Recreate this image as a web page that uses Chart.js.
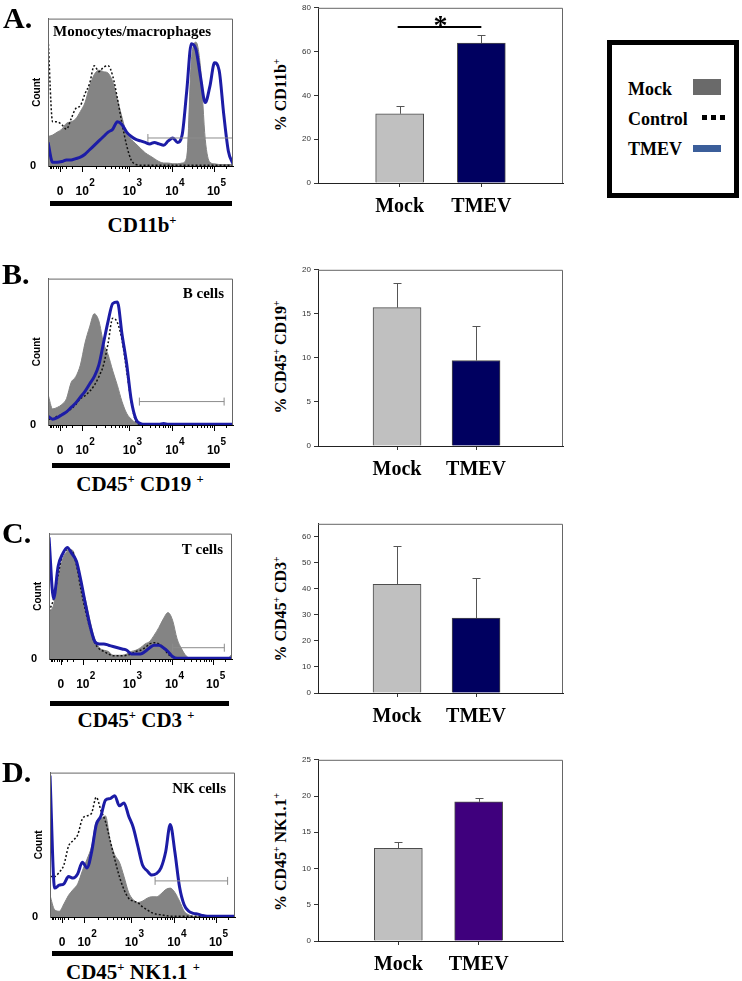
<!DOCTYPE html>
<html>
<head>
<meta charset="utf-8">
<script src="https://cdn.jsdelivr.net/npm/chart.js@4.4.1/dist/chart.umd.min.js"></script>
<style>
  body { margin: 0; background: #fff; }
  #fig { position: relative; width: 742px; height: 981px; overflow: hidden; font-family: "Liberation Serif", "Times New Roman", serif; }
  #fig canvas { position: absolute; }
  .lbl { position: absolute; font-weight: bold; white-space: nowrap; color: #000; }
  .panel { font-size: 30px; line-height: 30px; }
  .xname { font-size: 21px; line-height: 21px; width: 200px; text-align: center; }
  .yname { font-size: 16px; line-height: 16px; transform: translate(-50%, -50%) rotate(-90deg); }
  .rule { position: absolute; background: #000; height: 5px; }
  sup { font-size: 0.6em; vertical-align: 0.6em; line-height: 0; }
  #legend { position: absolute; left: 607px; top: 40px; width: 132px; height: 158px; border: 5px solid #000; box-sizing: border-box; }
  #legend .item { position: absolute; left: 16px; font-size: 18px; line-height: 18px; font-weight: bold; }
  #legend .sw { position: absolute; }
</style>
</head>
<body>
<div id="fig">
  <canvas id="histA"></canvas>
  <canvas id="histB"></canvas>
  <canvas id="histC"></canvas>
  <canvas id="histD"></canvas>
  <canvas id="barA"></canvas>
  <canvas id="barB"></canvas>
  <canvas id="barC"></canvas>
  <canvas id="barD"></canvas>

  <div class="lbl panel" style="left:3px; top:3px;">A.</div>
  <div class="lbl panel" style="left:2px; top:259px;">B.</div>
  <div class="lbl panel" style="left:2px; top:518px;">C.</div>
  <div class="lbl panel" style="left:2px; top:757px;">D.</div>

  <div class="rule" style="left:50px; width:182px; top:201px;"></div>
  <div class="rule" style="left:52px; width:178px; top:463px;"></div>
  <div class="rule" style="left:50px; width:179px; top:701px;"></div>
  <div class="rule" style="left:52px; width:181px; top:951px;"></div>

  <div class="lbl xname" style="left:42px; top:215px;">CD11b<sup>+</sup></div>
  <div class="lbl xname" style="left:40px; top:474px;">CD45<sup>+</sup> CD19 <sup>+</sup></div>
  <div class="lbl xname" style="left:36px; top:710px;">CD45<sup>+</sup> CD3 <sup>+</sup></div>
  <div class="lbl xname" style="left:33px; top:962px;">CD45<sup>+</sup> NK1.1 <sup>+</sup></div>

  <div class="lbl yname" style="left:281px; top:95px;">% CD11b<sup>+</sup></div>
  <div class="lbl yname" style="left:281px; top:357px;">% CD45<sup>+</sup> CD19<sup>+</sup></div>
  <div class="lbl yname" style="left:281px; top:609px;">% CD45<sup>+</sup> CD3<sup>+</sup></div>
  <div class="lbl yname" style="left:281px; top:852px;">% CD45<sup>+</sup> NK1.1<sup>+</sup></div>

  <div id="legend">
    <div class="item" style="top:35px;">Mock</div>
    <div class="sw" style="left:81px; top:34px; width:28px; height:16px; background:#6a6a6a;"></div>
    <div class="item" style="top:65px;">Control</div>
    <div class="sw" style="left:90px; top:70px; width:5px; height:5px; background:#000;"></div>
    <div class="sw" style="left:99px; top:70px; width:5px; height:5px; background:#000;"></div>
    <div class="sw" style="left:108px; top:70px; width:5px; height:5px; background:#000;"></div>
    <div class="item" style="top:95px;">TMEV</div>
    <div class="sw" style="left:81px; top:100px; width:28px; height:7px; background:#3b5e9a;"></div>
  </div>
</div>

<script>
// histogram channels, as % of the plotted axis width
const channels = [0, 2.5, 5, 7.5, 10, 12.5, 15, 17.5, 20, 22.5, 25, 27.5, 30, 32.5, 35, 37.5, 40, 42.5, 45, 47.5,
                  50, 52.5, 55, 57.5, 60, 62.5, 65, 67.5, 70, 72.5, 75, 77.5, 80, 82.5, 85, 87.5, 90, 92.5, 95, 97.5, 100];

// A. monocytes / macrophages (counts as % of frame height)
const monoMock = [20, 21, 23, 25, 29, 30, 32, 37, 43, 54, 62, 65, 64, 63, 57, 45, 33, 22, 18, 15,
                  12, 9, 7, 5, 3, 2, 2, 1.5, 1.5, 2, 6, 72, 84, 66, 18, 2.5, 1.5, 1, 1, 1, 1];
const monoControl = [88, 30, 30, 28, 25, 32, 39, 41, 49, 56, 68, 64, 67, 68, 61, 46, 29, 14, 4, 1,
                     0.5, 0.5, 0.5, 0.5, 0.5, 0.5, 0.5, 0.5, 0.5, 0.5, 0.5, 0.5, 0.5, 0.5, 0.5, 0.5, 0.5, 0.5, 0.5, 0.5, 0.5];
const monoTmev = [16, 2.5, 2.5, 3, 4, 4, 5, 6, 8, 11, 14, 17, 20, 23, 25, 30, 28, 23, 20, 18,
                  17, 16, 15, 16, 15, 14, 17, 19, 16, 21, 51, 83, 79, 60, 43, 54, 70, 65, 35, 10, 1.5];
const monoGate = [54, 100, 19];

// B. B cells
const bMock = [21, 11, 12, 14, 18, 29, 33, 41, 56, 67, 76, 71, 56, 48, 37, 27, 16, 8, 4, 1.5,
               0.5, 0.5, 0.5, 0.5, 0.5, 0.5, 0.5, 0.5, 0.5, 0.5, 0.5, 0.5, 0.5, 0.5, 0.5, 0.5, 0.5, 0.5, 0.5, 0.5, 0.5];
const bControl = [4, 4, 6, 7, 9, 11, 14, 18, 20, 23, 27, 33, 41, 56, 73, 70, 58, 37, 16, 2.5,
                  0.5, 0.5, 0.5, 0.5, 0.5, 0.5, 0.5, 0.5, 0.5, 0.5, 0.5, 0.5, 0.5, 0.5, 0.5, 0.5, 0.5, 0.5, 0.5, 0.5, 0.5];
const bTmev = [6, 4, 5, 7, 9, 12, 15, 19, 23, 28, 33, 41, 56, 71, 83, 84, 62, 42, 17, 4,
               1, 0.5, 0.5, 0.5, 0.5, 1, 0.5, 0.5, 0.5, 0.5, 0.5, 0.5, 0.5, 0.5, 0.5, 0.5, 0.5, 0.5, 0.5, 0.5, 0.5];
const bGate = [49.4, 95.2, 16];

// C. T cells
const tMock = [38, 43, 65, 80, 86, 87, 78, 60, 47, 30, 16, 9, 7, 6, 3, 3, 3, 4, 6, 7,
               9, 12, 14, 19, 25, 32, 37, 31, 16, 8, 2.4, 0.7, 0.5, 0.5, 0.5, 0.5, 0.5, 0.5, 0.5, 0.5, 4];
const tControl = [38, 48, 67, 84, 87, 86, 75, 55, 38, 24, 13, 8, 6, 4, 2.5, 2.5, 2.5, 3, 4, 6,
                  7, 9, 12, 13, 12, 9, 4, 1.5, 0.5, 0.5, 0.5, 0.5, 0.5, 0.5, 0.5, 0.5, 0.5, 0.5, 0.5, 0.5, 0.5];
const tTmev = [97, 48, 74, 84, 89, 84, 78, 62, 43, 26, 14, 12, 12, 11, 10, 9, 8, 7, 4, 4,
               4, 6, 9, 11, 11, 9, 6, 2, 0.5, 0.5, 0.5, 0.5, 0.5, 0.5, 0.5, 0.5, 0.5, 0.5, 0.5, 0.5, 0.5];
const tGate = [67.6, 95.8, 9];

// D. NK cells
const nkMock = [15, 5, 4, 9, 15, 19, 23, 32, 40, 49, 66, 68, 70, 53, 43, 38, 28, 17, 12, 10,
                11, 13, 14, 14, 16, 19, 20, 17, 11, 4, 1.5, 0.5, 0.5, 0.5, 0.5, 0.5, 0.5, 0.5, 0.5, 0.5, 0.5];
const nkControl = [28, 28, 31, 36, 49, 53, 57, 68, 70, 72, 83, 74, 66, 53, 40, 28, 19, 13, 11, 10,
                   7, 5, 3, 2, 1.5, 1, 0.5, 0.5, 0.5, 0.5, 0.5, 0.5, 0.5, 0.5, 0.5, 0.5, 0.5, 0.5, 0.5, 0.5, 0.5];
const nkTmev = [98, 20, 22, 23, 28, 27, 30, 38, 34, 45, 64, 70, 81, 82, 84, 77, 79, 70, 62, 49,
                36, 32, 29, 30, 34, 45, 64, 45, 21, 8.5, 4, 2.5, 2, 1, 0.6, 0.6, 0.6, 0.6, 0.6, 0.6, 0.6];
const nkGate = [56.8, 96, 25];

// fluorescence axis labels
const decadeAt = [6.5, 18.5, 44, 67, 89.5];
const decadeBase = ['0', '10', '10', '10', '10'];
const decadeExp = ['', '2', '3', '4', '5'];

// bar charts: mean % and error
const groups = ['Mock', 'TMEV'];
const cd11bPct = [31.6, 63.9];
const cd11bErr = [3.6, 3.5];
const cd19Pct = [15.7, 9.7];
const cd19Err = [2.8, 3.9];
const cd3Pct = [41.7, 28.8];
const cd3Err = [14.9, 15.3];
const nkPct = [12.8, 19.2];
const nkErr = [0.8, 0.5];

Chart.defaults.font.family = '"Liberation Sans", Arial, sans-serif';

// minor tick marks between the decade labels
const minorTicks = [];
for (let d = 1; d < decadeAt.length - 1; d++) {
    const a = decadeAt[d], b = decadeAt[d + 1];
    for (let k = 2; k <= 9; k++) minorTicks.push(a + (b - a) * Math.log10(k));
}
for (let k = 2; k <= 9; k++) {
    minorTicks.push(decadeAt[1] * (1 - Math.log10(k)));
    const v = decadeAt[4] + (decadeAt[4] - decadeAt[3]) * Math.log10(k);
    if (v < 100) minorTicks.push(v);
}

function makeHistDecor(title, align, dy) {
    return {
        id: 'histDecor',
        afterDraw(chart) {
            const { ctx, chartArea: a, scales: { x } } = chart;
            ctx.save();
            // frame
            ctx.strokeStyle = '#666';
            ctx.lineWidth = 1;
            ctx.beginPath();
            ctx.moveTo(a.left + 0.5, a.bottom);
            ctx.lineTo(a.left + 0.5, a.top + 0.5);
            ctx.lineTo(a.right - 0.5, a.top + 0.5);
            ctx.lineTo(a.right - 0.5, a.bottom);
            ctx.stroke();
            // tick marks
            ctx.strokeStyle = '#000';
            ctx.beginPath();
            minorTicks.forEach(v => {
                const px = Math.round(x.getPixelForValue(v)) + 0.5;
                ctx.moveTo(px, a.bottom);
                ctx.lineTo(px, a.bottom + 3);
            });
            decadeAt.forEach(v => {
                const px = Math.round(x.getPixelForValue(v)) + 0.5;
                ctx.moveTo(px, a.bottom);
                ctx.lineTo(px, a.bottom + 6);
            });
            ctx.stroke();
            // exponents
            ctx.fillStyle = '#000';
            ctx.font = 'bold 10px "Liberation Sans"';
            ctx.textAlign = 'left';
            ctx.textBaseline = 'alphabetic';
            decadeAt.forEach((v, i) => {
                if (decadeExp[i]) ctx.fillText(decadeExp[i], x.getPixelForValue(v) + 7, a.bottom + 20);
            });
            // population name
            ctx.font = 'bold 15px "Liberation Serif"';
            ctx.textAlign = align;
            ctx.fillText(title, align === 'left' ? a.left + 5 : a.right - 9, a.top + dy);
            // y title
            ctx.translate(a.left - 11, (a.top + a.bottom) / 2);
            ctx.rotate(-Math.PI / 2);
            ctx.font = 'bold 10px "Liberation Sans"';
            ctx.textAlign = 'center';
            ctx.textBaseline = 'middle';
            ctx.fillText('Count', 0, 0);
            ctx.restore();
        }
    };
}

function histChart(id, box, mock, control, tmev, gate, title, align, dy) {
    const cv = document.getElementById(id);
    const left = box[0] - 48, top = box[2] - 6;
    cv.width = box[1] - left + 7;
    cv.height = box[3] - top + 34;
    cv.style.left = left + 'px';
    cv.style.top = top + 'px';
    const xy = arr => arr.map((v, i) => ({ x: channels[i], y: v }));

    new Chart(cv, {
        type: 'line',
        data: {
            datasets: [
                {
                    label: 'gate',
                    data: [{ x: gate[0], y: gate[2] }, { x: gate[1], y: gate[2] }],
                    borderColor: '#8c8c8c', borderWidth: 1,
                    pointStyle: 'line', pointRotation: 90, pointRadius: 4,
                    pointBorderColor: '#8c8c8c', pointBorderWidth: 1,
                    order: 0
                },
                {
                    label: 'TMEV', data: xy(tmev),
                    borderColor: '#1c1ca6', borderWidth: 3, pointRadius: 0,
                    cubicInterpolationMode: 'monotone', fill: false, order: 1
                },
                {
                    label: 'Control', data: xy(control),
                    borderColor: '#111', borderWidth: 1.5, borderDash: [2, 2], pointRadius: 0,
                    cubicInterpolationMode: 'monotone', fill: false, order: 2
                },
                {
                    label: 'Mock', data: xy(mock),
                    borderColor: '#848484', backgroundColor: '#848484', borderWidth: 1, pointRadius: 0,
                    cubicInterpolationMode: 'monotone', fill: 'origin', order: 3
                }
            ]
        },
        options: {
            animation: false,
            responsive: false,
            layout: { padding: { top: 6, right: 7 } },
            plugins: { legend: { display: false }, tooltip: { enabled: false } },
            scales: {
                x: {
                    type: 'linear', min: 0, max: 100,
                    afterBuildTicks: s => { s.ticks = decadeAt.map(v => ({ value: v })); },
                    afterFit: s => { s.height = 34; },
                    ticks: {
                        callback: (v, i) => decadeBase[i],
                        autoSkip: false, maxRotation: 0, padding: 18, color: '#000',
                        font: { size: 12, weight: 'bold' }
                    },
                    grid: { drawOnChartArea: false, drawTicks: false },
                    border: { color: '#000' }
                },
                y: {
                    min: 0, max: 100,
                    afterBuildTicks: s => { s.ticks = [{ value: 0 }]; },
                    afterFit: s => { s.width = 48; },
                    ticks: { padding: 12, color: '#000', font: { size: 11, weight: 'bold' } },
                    grid: { drawOnChartArea: false, drawTicks: false },
                    border: { color: '#666' }
                }
            }
        },
        plugins: [makeHistDecor(title, align, dy)]
    });
}

function makeBarDecor(errs, sig) {
    return {
        id: 'barDecor',
        afterDatasetsDraw(chart) {
            const { ctx, scales: { y } } = chart;
            const meta = chart.getDatasetMeta(0);
            const vals = chart.data.datasets[0].data;
            ctx.save();
            ctx.strokeStyle = '#555';
            ctx.lineWidth = 1;
            ctx.beginPath();
            meta.data.forEach((bar, i) => {
                const px = Math.round(bar.x) + 0.5;
                const top = Math.round(y.getPixelForValue(vals[i].y + errs[i])) + 0.5;
                ctx.moveTo(px, bar.y);
                ctx.lineTo(px, top);
                ctx.moveTo(px - 4, top);
                ctx.lineTo(px + 4, top);
            });
            ctx.stroke();
            ctx.restore();
        },
        afterDraw(chart) {
            const { ctx, chartArea: a, scales: { y } } = chart;
            ctx.save();
            ctx.strokeStyle = '#666';
            ctx.lineWidth = 1;
            ctx.beginPath();
            ctx.moveTo(a.left, a.top + 0.5);
            ctx.lineTo(a.right - 0.5, a.top + 0.5);
            ctx.lineTo(a.right - 0.5, a.bottom);
            ctx.stroke();
            if (sig) {
                const meta = chart.getDatasetMeta(0);
                const x0 = meta.data[0].x, x1 = meta.data[1].x;
                const py = y.getPixelForValue(sig);
                ctx.strokeStyle = '#000';
                ctx.lineWidth = 2;
                ctx.beginPath();
                ctx.moveTo(x0 - 2, py);
                ctx.lineTo(x1, py);
                ctx.stroke();
                ctx.fillStyle = '#000';
                ctx.font = 'bold 28px "Liberation Serif"';
                ctx.textAlign = 'center';
                ctx.textBaseline = 'alphabetic';
                ctx.fillText('*', (x0 + x1) / 2, py + 7);
            }
            ctx.restore();
        }
    };
}

function barChart(id, frameTop, frameBottom, values, errs, yMax, step, xMax, tmevColor, sig) {
    const cv = document.getElementById(id);
    const top = frameTop - 6;
    cv.width = 280;
    cv.height = frameBottom - top + 47;
    cv.style.left = '290px';
    cv.style.top = top + 'px';

    new Chart(cv, {
        type: 'bar',
        data: {
            datasets: [{
                data: values.map((v, i) => ({ x: i + 1, y: v })),
                backgroundColor: ['#c0c0c0', tmevColor],
                borderColor: '#4d4d4d',
                borderWidth: 1,
                barThickness: 48
            }]
        },
        options: {
            animation: false,
            responsive: false,
            layout: { padding: { top: 6, right: 7 } },
            plugins: { legend: { display: false }, tooltip: { enabled: false } },
            scales: {
                x: {
                    type: 'linear', min: 0, max: xMax, offset: false,
                    afterBuildTicks: s => { s.ticks = groups.map((g, i) => ({ value: i + 1 })); },
                    afterFit: s => { s.height = 47; },
                    ticks: {
                        callback: (v, i) => groups[i],
                        autoSkip: false, maxRotation: 0, padding: 8, color: '#000',
                        font: { family: '"Liberation Serif"', size: 20, weight: 'bold' }
                    },
                    grid: { drawOnChartArea: false, tickLength: 4, color: '#333', offset: false },
                    border: { color: '#222' }
                },
                y: {
                    min: 0, max: yMax,
                    afterFit: s => { s.width = 28; },
                    ticks: { stepSize: step, includeBounds: false, padding: 3, color: '#333', font: { size: 8 } },
                    grid: { drawOnChartArea: false, tickLength: 4, color: '#333' },
                    border: { color: '#222' }
                }
            }
        },
        plugins: [makeBarDecor(errs, sig)]
    });
}

histChart('histA', [48, 233, 6, 166], monoMock, monoControl, monoTmev, monoGate, 'Monocytes/macrophages', 'left', 17);
histChart('histB', [48, 233, 266, 425], bMock, bControl, bTmev, bGate, 'B cells', 'right', 19);
histChart('histC', [49, 232, 521, 659], tMock, tControl, tTmev, tGate, 'T cells', 'right', 20);
histChart('histD', [50, 235, 760, 917], nkMock, nkControl, nkTmev, nkGate, 'NK cells', 'right', 20);

barChart('barA', 6, 183, cd11bPct, cd11bErr, 80, 20, 3.0, '#000060', 71.2);
barChart('barB', 268, 446, cd19Pct, cd19Err, 20, 5, 3.1, '#000060', null);
barChart('barC', 522, 693, cd3Pct, cd3Err, 65, 10, 3.1, '#000060', null);
barChart('barD', 758, 941, nkPct, nkErr, 25, 5, 3.05, '#3f007d', null);
</script>
</body>
</html>
